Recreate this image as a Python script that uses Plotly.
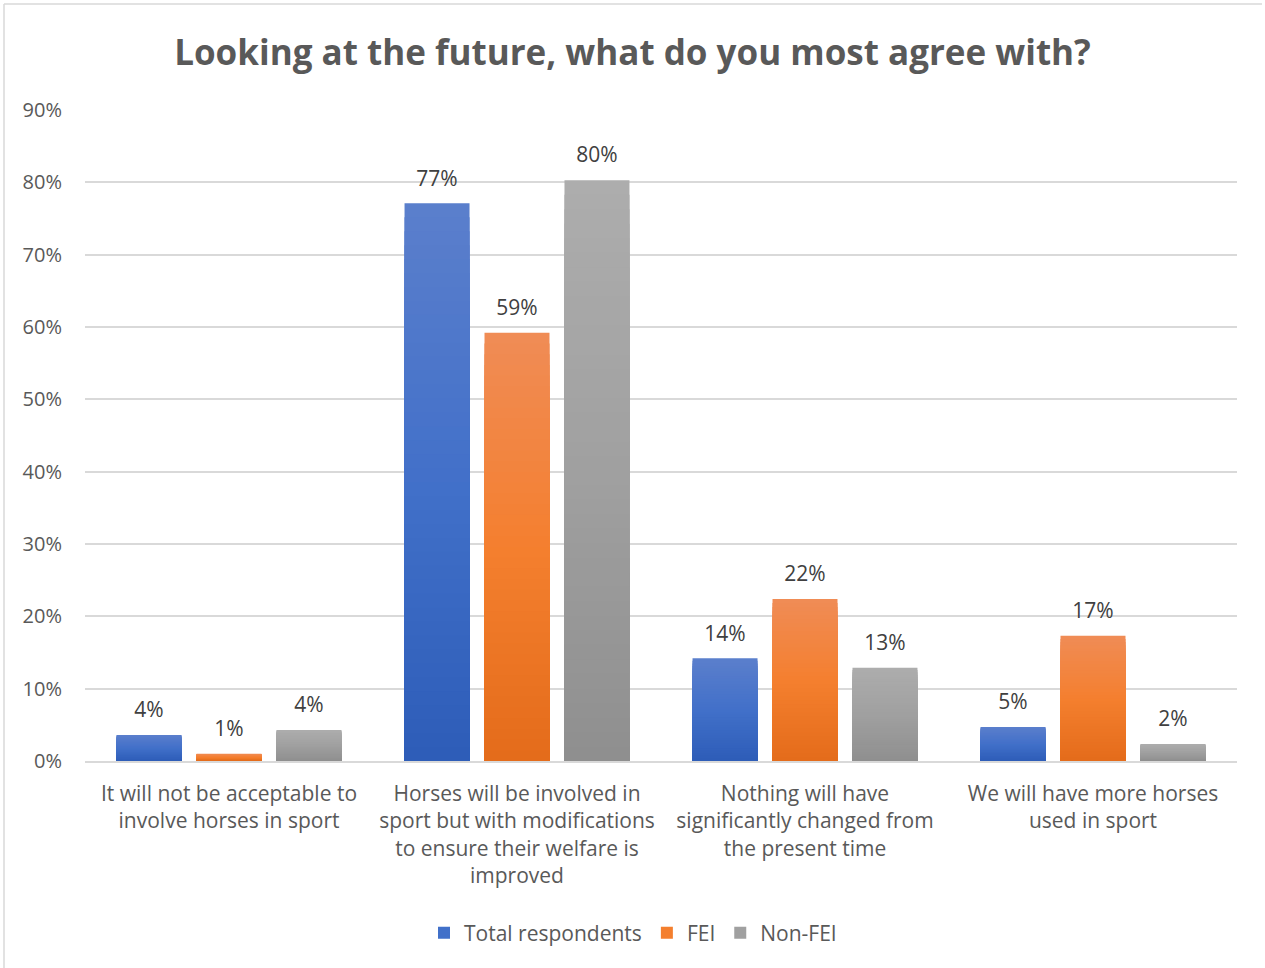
import plotly.graph_objects as go

# Survey answers and shares per respondent group
categories = [
    "It will not be acceptable to<br>involve horses in sport",
    "Horses will be involved in<br>sport but with modifications<br>to ensure their welfare is<br>improved",
    "Nothing will have<br>significantly changed from<br>the present time",
    "We will have more horses<br>used in sport",
]
total_respondents = [0.036, 0.771, 0.142, 0.047]
fei = [0.010, 0.592, 0.224, 0.173]
non_fei = [0.043, 0.803, 0.129, 0.0235]

series_names = ["Total respondents", "FEI", "Non-FEI"]
series_values = [total_respondents, fei, non_fei]

# vertical gradient stops per series: bottom, middle, top
gradients = [
    ["#2d5db8", "#4270c9", "#5b7fcc"],
    ["#e46c1a", "#f47f2f", "#f08c56"],
    ["#8f8f8f", "#a0a0a0", "#adadad"],
]

TEXT = "#595959"
GRID = "#d9d9d9"
FONT = "Open Sans"
N_SEG = 40
LABEL_PAD = 0.012


def hex_to_rgb(h):
    h = h.lstrip("#")
    return tuple(int(h[i:i + 2], 16) for i in (0, 2, 4))


def blend(stops, t):
    # piecewise-linear interpolation across the three stops, t in [0, 1]
    if t <= 0.5:
        a, b, f = stops[0], stops[1], t / 0.5
    else:
        a, b, f = stops[1], stops[2], (t - 0.5) / 0.5
    ca, cb = hex_to_rgb(a), hex_to_rgb(b)
    c = [round(ca[k] + (cb[k] - ca[k]) * f) for k in range(3)]
    return "rgb({},{},{})".format(*c)


fig = go.Figure()

for s, (name, vals, stops) in enumerate(zip(series_names, series_values, gradients)):
    group = str(s)
    # each bar is layered from full height down to a thin base slice; every
    # layer covers the one beneath except its top band, giving a smooth
    # fill that darkens toward the base
    for i in range(N_SEG):
        frac = (N_SEG - i) / N_SEG
        t = (N_SEG - i - 0.5) / N_SEG
        fig.add_trace(go.Bar(
            x=categories,
            y=[v * frac for v in vals],
            offsetgroup=group,
            legendgroup=group,
            name=name,
            showlegend=(i == N_SEG // 2),
            marker=dict(color=blend(stops, t), line=dict(width=0)),
            hoverinfo="skip",
        ))
    # transparent cap carrying the value label above each bar
    fig.add_trace(go.Bar(
        x=categories,
        y=[LABEL_PAD] * len(vals),
        base=vals,
        customdata=vals,
        offsetgroup=group,
        legendgroup=group,
        showlegend=False,
        marker=dict(color="rgba(0,0,0,0)", line=dict(width=0)),
        texttemplate="%{customdata:.0%}",
        textposition="outside",
        textfont=dict(family=FONT, size=21, color="#404040"),
        cliponaxis=False,
        hoverinfo="skip",
    ))

# light frame along the top and left edges of the chart area
frame = dict(type="line", xref="paper", yref="paper",
             line=dict(color=GRID, width=1.5), layer="below")

fig.update_layout(
    width=1265,
    height=968,
    margin=dict(l=85, r=28, t=110, b=207),
    paper_bgcolor="white",
    plot_bgcolor="white",
    barmode="group",
    bargap=0.167,
    bargroupgap=0.1875,
    font=dict(family=FONT, color=TEXT),
    title=dict(
        text="<b>Looking at the future, what do you most agree with?</b>",
        x=0.5, xanchor="center", xref="container",
        y=1 - 53 / 968, yanchor="middle", yref="container",
        font=dict(family=FONT, size=35, color=TEXT),
    ),
    xaxis=dict(
        showgrid=False,
        showline=True,
        linecolor=GRID,
        linewidth=1.5,
        ticks="",
        ticklabelstandoff=13,
        tickfont=dict(family=FONT, size=21, color=TEXT),
    ),
    yaxis=dict(
        range=[0, 0.9],
        dtick=0.1,
        tickformat=".0%",
        showgrid=True,
        gridcolor=GRID,
        gridwidth=1.5,
        zeroline=False,
        ticks="",
        ticklabelstandoff=22,
        tickfont=dict(family=FONT, size=20, color=TEXT),
    ),
    legend=dict(
        orientation="h",
        x=0.5 - 28 / 1152, xanchor="center",
        y=(761 - 933) / 651, yanchor="middle",
        font=dict(family=FONT, size=21, color=TEXT),
        traceorder="normal",
        itemclick=False,
    ),
    shapes=[
        dict(frame, x0=(4 - 85) / 1152, x1=(4 - 85) / 1152, y0=(761 - 968) / 651, y1=1 + 106 / 651),
        dict(frame, x0=(4 - 85) / 1152, x1=(1262 - 85) / 1152, y0=1 + 106 / 651, y1=1 + 106 / 651),
    ],
    showlegend=True,
)

fig.write_html("out.html")
